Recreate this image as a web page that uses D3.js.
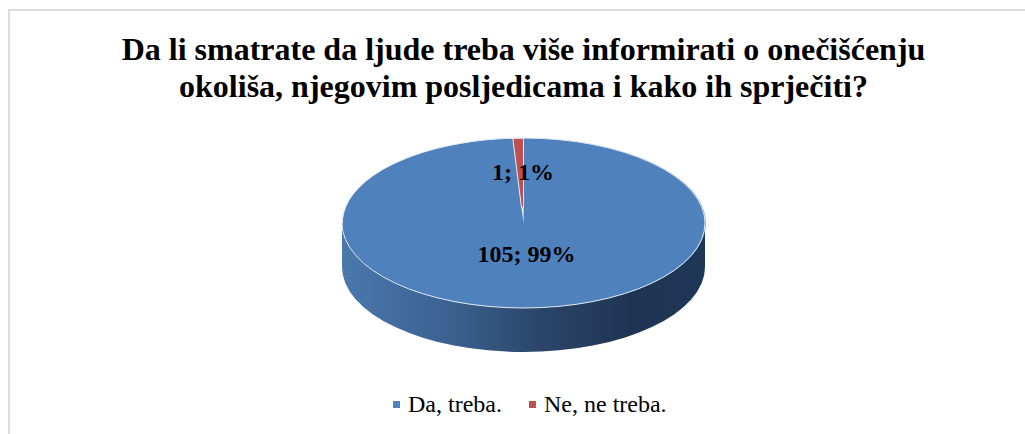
<!DOCTYPE html>
<html>
<head>
<meta charset="utf-8">
<script src="https://cdnjs.cloudflare.com/ajax/libs/d3/7.8.5/d3.min.js"></script>
<style>
  html, body { margin: 0; padding: 0; background: #fff; }
  svg { display: block; }
  text { font-family: "Liberation Serif", serif; fill: #000; }
</style>
</head>
<body>
<svg id="svgChart" width="1025" height="434"></svg>
<script>
const titleLines = [
  "Da li smatrate da ljude treba više informirati o onečišćenju",
  "okoliša, njegovim posljedicama i kako ih sprječiti?"
];
const categories = ["Da, treba.", "Ne, ne treba."];
const values = [105, 1];
const labels = ["105; 99%", "1; 1%"];
const colours = ["#4f81bd", "#c0504d"];

let svg = d3.select("#svgChart");

// Frame of the chart, runs off the right and bottom edges
svg.append("path")
  .attr("d", "M9,434V10H1025")
  .attr("fill", "none")
  .attr("stroke", "#dcdcdc")
  .attr("stroke-width", 2);

// Title
svg.append("g")
  .attr("text-anchor", "middle")
  .attr("font-size", "32px")
  .attr("font-weight", "bold")
  .selectAll("text")
  .data(titleLines)
  .join("text")
    .attr("x", 523.5)
    .attr("y", (d, i) => 60 + i * 37)
    .text(d => d);

// Pie geometry
let cx = 523.5, cy = 223, rx = 181.5, ry = 85, depth = 44;

// Side wall shading
let grad = svg.append("defs").append("linearGradient")
  .attr("id", "wall")
  .attr("gradientUnits", "userSpaceOnUse")
  .attr("x1", cx - rx).attr("x2", cx + rx)
  .attr("y1", 0).attr("y2", 0);
grad.selectAll("stop")
  .data([[0, "#4a78ad"], [0.3, "#3b6190"], [0.55, "#2b4569"], [0.8, "#1e3452"], [1, "#1f3757"]])
  .join("stop")
    .attr("offset", d => d[0])
    .attr("stop-color", d => d[1]);

svg.append("path")
  .attr("d", `M${cx - rx},${cy}V${cy + depth}A${rx},${ry} 0 0 0 ${cx + rx},${cy + depth}V${cy}Z`)
  .attr("fill", "url(#wall)");

// Slices, drawn on a unit circle and squashed into the ellipse.
// The small slice stops short of the centre, its tip is lost in the blue
let pie = d3.pie().sort(null);
let arc = d3.arc()
  .innerRadius(d => d.index === 1 ? 0.18 : 0)
  .outerRadius(1);

let slices = svg.append("g")
  .attr("transform", `translate(${cx},${cy}) scale(${rx},${ry})`);
slices.selectAll("path")
  .data(pie(values))
  .join("path")
    .attr("d", arc)
    .attr("fill", (d, i) => colours[i])
    .attr("stroke", (d, i) => i === 1 ? "#e4ebf4" : "none")
    .attr("stroke-width", 1)
    .attr("vector-effect", "non-scaling-stroke");

// Light rim round the top face
slices.append("ellipse")
  .attr("rx", 1)
  .attr("ry", 1)
  .attr("fill", "none")
  .attr("stroke", "#e4ebf4")
  .attr("stroke-width", 1)
  .attr("vector-effect", "non-scaling-stroke");

// Data labels
let labelPos = [[526.5, 262], [523, 180]];
svg.append("g")
  .attr("text-anchor", "middle")
  .attr("font-size", "24px")
  .attr("font-weight", "bold")
  .selectAll("text")
  .data(labels)
  .join("text")
    .attr("x", (d, i) => labelPos[i][0])
    .attr("y", (d, i) => labelPos[i][1])
    .text(d => d);

// Legend
let legendX = [393, 529];
let legend = svg.append("g")
  .selectAll("g")
  .data(categories)
  .join("g")
    .attr("transform", (d, i) => `translate(${legendX[i]},0)`);
legend.append("rect")
  .attr("y", 401)
  .attr("width", 7)
  .attr("height", 7)
  .attr("fill", (d, i) => colours[i]);
legend.append("text")
  .attr("x", 15)
  .attr("y", 412)
  .attr("font-size", "24px")
  .text(d => d);
</script>
</body>
</html>
